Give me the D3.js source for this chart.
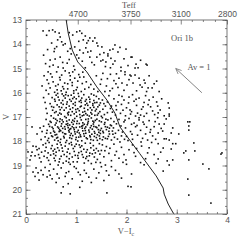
<!DOCTYPE html>
<html>
<head>
<meta charset="utf-8">
<script src="https://cdn.jsdelivr.net/npm/d3@7"></script>
<style>
  body { margin: 0; background: #fff; }
  svg { display: block; }
  .tick text { font-family: "Liberation Sans", sans-serif; font-size: 8.5px; fill: #555; }
  .domain { stroke: none; }
  .tick line { stroke: #555; stroke-width: 0.7; }
</style>
</head>
<body>
<div id="chart"></div>
<script>
// V vs V-Ic colour-magnitude diagram, Ori 1b

// axis ticks
var xTicks = [0, 1, 2, 3, 4];
var yTicks = [13, 14, 15, 16, 17, 18, 19, 20, 21];
// Teff scale on top: label and the V-Ic colour it sits at
var teffLabels = ["4700", "3750", "3100", "2800"];
var teffColor = [1.03, 2.08, 3.08, 4.0];
var teffMinor = [0.2, 0.4, 0.6, 0.8, 1.24, 1.44, 1.64, 1.86, 2.28, 2.48, 2.68, 2.88, 3.3, 3.52, 3.76];

// isochrone (V-Ic, V)
var isoColor = [0.80, 0.84, 0.92, 1.03, 1.21, 1.41, 1.61, 1.77, 1.87, 2.26, 2.59, 2.73, 2.75, 2.83, 2.93, 2.95];
var isoMag   = [13.0, 13.54, 14.24, 14.73, 15.14, 15.76, 16.30, 16.84, 17.41, 18.50, 19.43, 19.93, 20.18, 20.59, 20.96, 21.0];

// reddening vector Av = 1
var avTail = [3.50, 16.0];
var avHead = [2.98, 15.0];

// stars (V-Ic, V)
var stars = [
[0.34,13.45],[0.46,13.44],[0.53,13.41],[0.58,13.49],[0.66,13.54],[1.01,13.49],[1.07,13.45],[1.11,13.55],[0.63,13.82],[0.68,13.70],
[0.71,13.90],[0.51,13.95],[1.14,13.82],[1.21,13.95],[1.27,13.74],[1.37,13.74],[1.41,13.95],[1.33,13.87],[0.93,13.62],[1.18,13.66],
[0.78,13.98],[1.05,13.88],[0.41,13.63],[0.86,13.52],[1.24,13.85],
[0.74,14.03],[0.61,14.10],[1.51,14.11],[1.67,14.24],[1.77,14.03],[0.97,14.11],[1.07,14.24],[1.01,14.44],[1.14,14.36],[1.23,14.32],
[1.27,14.53],[1.41,14.53],[1.53,14.65],[1.63,14.48],[1.77,14.69],[0.48,14.65],[0.58,14.61],[0.68,14.53],[0.54,14.86],[0.64,14.94],
[0.74,14.98],[0.82,14.78],[1.43,14.07],[1.29,14.28],[1.63,14.40],[1.73,14.20],[1.83,14.32],[2.09,14.53],[1.49,14.69],[1.59,14.73],
[1.73,14.82],[1.89,14.95],[2.19,14.82],[2.39,14.82],[2.11,14.53],[2.41,14.86],[2.17,14.98],[1.58,14.92],[1.68,14.97],[0.35,14.45],
[0.43,14.22],[0.90,14.40],[0.86,14.63],[1.95,14.60],[1.36,14.85],[1.12,14.70],[0.95,14.90],[1.99,14.20],[0.56,14.30],[2.28,14.66],
[2.03,14.88],[0.88,14.18],[1.18,14.97],[1.47,14.42],
[0.57,14.18],[0.83,14.29],[1.19,14.15],[1.55,14.35],[1.87,14.13],[0.47,14.92],[0.73,14.75],[1.05,14.57],[1.31,14.75],[1.69,14.58],
[2.23,14.97],[0.39,14.80],
[0.44,15.14],[0.61,15.14],[0.71,15.27],[0.86,15.18],[0.97,15.05],[0.42,15.47],[0.54,15.55],[0.68,15.47],[0.77,15.60],[0.88,15.47],
[0.97,15.40],[1.07,15.36],[0.48,15.80],[0.62,15.88],[0.73,15.75],[0.83,15.84],[0.92,15.70],[1.02,15.78],[1.12,15.62],[1.20,15.55],
[1.25,15.78],[1.35,15.85],[1.43,15.95],[0.36,15.30],[0.32,15.72],[0.57,15.98],[0.80,15.98],[0.95,15.92],[1.10,15.95],[1.17,15.85],
[1.05,15.25],[1.15,15.35],[0.78,15.10],[0.52,15.35],[0.64,15.66],[0.92,15.58],[1.00,15.88],[0.70,15.92],[0.88,15.30],[0.40,15.90],
[0.49,15.22],[0.67,15.37],[0.83,15.63],[1.13,15.15],[0.59,15.72],[1.29,15.66],[0.45,15.62],[0.75,15.84],[1.03,15.52],[0.93,15.14],
[1.97,15.14],[2.07,15.27],[2.17,15.27],[1.91,15.60],[2.01,15.68],[2.13,15.60],[2.27,15.68],[2.37,15.60],[2.31,15.77],[2.43,15.80],
[2.51,15.80],[1.89,15.10],[1.97,15.25],[2.09,15.31],[1.53,15.20],[1.68,15.24],[1.80,15.22],[1.40,15.30],[1.50,15.45],[1.62,15.42],
[1.75,15.50],[1.85,15.40],[2.25,15.40],[2.45,15.30],[2.60,15.52],[1.60,15.72],[1.72,15.82],[1.83,15.78],[1.95,15.90],[2.20,15.92],
[2.65,15.95],[1.57,15.95],[2.35,15.48],[1.48,15.65],[1.79,15.63],[2.05,15.46],[2.55,15.63],[1.67,15.92],[2.40,15.95],
[0.45,16.05],[0.52,16.20],[0.60,16.10],[0.66,16.30],[0.72,16.05],[0.78,16.22],[0.84,16.12],[0.90,16.35],[0.95,16.02],[1.00,16.25],
[1.05,16.15],[1.10,16.40],[1.15,16.08],[1.20,16.28],[1.25,16.18],[1.30,16.05],[1.35,16.32],[1.40,16.15],[1.45,16.25],[0.48,16.45],
[0.55,16.60],[0.62,16.50],[0.68,16.70],[0.74,16.48],[0.80,16.62],[0.86,16.55],[0.92,16.78],[0.98,16.52],[1.03,16.66],[1.08,16.58],
[1.13,16.80],[1.18,16.50],[1.23,16.70],[1.28,16.62],[1.33,16.45],[1.38,16.75],[1.43,16.58],[1.48,16.42],[1.53,16.68],[1.58,16.55],
[0.42,16.85],[0.50,16.95],[0.57,16.82],[0.64,16.92],[0.70,16.88],[0.77,16.98],[0.83,16.84],[0.89,16.93],[0.96,16.87],[1.01,16.97],
[1.07,16.90],[1.12,16.95],[1.19,16.86],[1.26,16.96],[1.31,16.88],[1.37,16.93],[1.44,16.85],[1.50,16.97],[1.56,16.90],[1.62,16.82],
[0.58,16.35],[0.70,16.42],[0.82,16.38],[0.94,16.46],[1.06,16.36],[1.16,16.64],[1.27,16.38],[0.76,16.72],[0.88,16.68],[1.00,16.80],
[1.22,16.92],[1.35,16.60],[0.64,16.18],[0.87,16.28],[1.11,16.22],[1.33,16.52],[1.47,16.78],[0.53,16.72],[0.79,16.08],[0.98,16.40],
[1.18,16.35],[1.41,16.40],[0.66,16.58],[0.93,16.62],[1.06,16.74],[1.29,16.82],[0.73,16.32],[0.96,16.18],[1.23,16.52],[1.52,16.30],
[0.38,16.40],[0.40,16.65],[0.35,16.20],[0.85,16.80],[1.10,16.55],[1.40,16.68],[0.60,16.78],[0.90,16.10],[1.15,16.92],[1.35,16.10],
[0.63,16.03],[0.81,16.47],[1.09,16.31],[1.37,16.41],[0.57,16.27],[0.99,16.69],[1.21,16.44],[0.71,16.61],[1.46,16.51],[0.84,16.91],
[1.04,16.03],[1.31,16.71],[0.93,16.24],[0.67,16.84],[1.17,16.77],[1.55,16.45],[0.51,16.57],[1.27,16.27],[0.75,16.13],[1.42,16.92],
[1.65,16.12],[1.75,16.25],[1.85,16.10],[1.95,16.30],[2.05,16.18],[2.15,16.35],[2.25,16.22],[2.35,16.40],[2.53,16.18],[2.60,16.38],
[2.67,16.71],[2.83,16.42],[2.85,16.63],[2.85,16.88],[1.70,16.55],[1.80,16.70],[1.90,16.48],[2.00,16.62],[2.10,16.78],[2.20,16.52],
[2.30,16.68],[2.40,16.85],[2.48,16.58],[2.56,16.90],[1.78,16.92],[1.88,16.85],[1.98,16.95],[2.08,16.88],[2.18,16.96],[2.28,16.92],
[2.45,16.30],[1.62,16.38],[1.72,16.80],[2.12,16.08],[2.38,16.12],[2.70,16.25],[1.93,16.72],[2.22,16.84],[2.52,16.75],[1.68,16.65],
[2.04,16.42],[2.33,16.58],[2.62,16.55],[2.75,16.95],[1.83,16.38],
[1.91,16.15],[2.19,16.27],[2.43,16.49],[1.79,16.53],[2.07,16.71],[2.35,16.97],[2.63,16.83],
[0.55,17.05],[0.62,17.15],[0.68,17.08],[0.74,17.20],[0.80,17.03],[0.86,17.12],[0.91,17.22],[0.97,17.06],[1.02,17.17],[1.08,17.02],
[1.13,17.24],[1.19,17.10],[1.24,17.18],[1.30,17.04],[1.35,17.21],[1.41,17.09],[1.46,17.16],[1.52,17.03],[1.57,17.23],[1.63,17.12],
[1.69,17.06],[1.75,17.19],[0.48,17.18],[0.40,17.10],[0.12,17.41],
[0.45,17.30],[0.52,17.42],[0.58,17.33],[0.65,17.46],[0.71,17.28],[0.77,17.40],[0.83,17.35],[0.89,17.48],[0.94,17.30],[1.00,17.43],
[1.06,17.27],[1.11,17.38],[1.17,17.47],[1.22,17.32],[1.28,17.44],[1.34,17.29],[1.39,17.41],[1.45,17.35],[1.50,17.47],[1.56,17.30],
[1.62,17.42],[1.68,17.33],[1.74,17.45],[1.80,17.28],[0.35,17.38],[0.28,17.45],
[0.38,17.82],[0.42,17.55],[0.49,17.66],[0.55,17.58],[0.61,17.72],[0.67,17.53],[0.73,17.64],[0.79,17.70],[0.85,17.56],[0.90,17.68],
[0.96,17.52],[1.02,17.62],[1.08,17.74],[1.13,17.57],[1.19,17.67],[1.25,17.54],[1.31,17.71],[1.36,17.60],[1.42,17.73],[1.48,17.55],
[1.54,17.65],[1.60,17.52],[1.66,17.70],[1.72,17.58],[1.78,17.67],[1.84,17.55],[0.32,17.60],[0.22,17.70],
[0.45,17.88],[0.51,17.78],[0.57,17.95],[0.63,17.84],[0.69,17.92],[0.75,17.80],[0.81,17.97],[0.87,17.86],[0.93,17.77],[0.99,17.93],
[1.05,17.83],[1.11,17.98],[1.16,17.79],[1.22,17.90],[1.28,17.82],[1.34,17.96],[1.40,17.85],[1.46,17.78],[1.52,17.94],[1.58,17.88],
[1.64,17.80],[1.70,17.95],[1.76,17.84],[1.82,17.91],[1.90,17.78],[1.96,17.92],[0.30,17.93],
[0.60,17.25],[0.72,17.12],[0.84,17.44],[0.96,17.18],[1.04,17.55],[1.16,17.30],[1.26,17.62],[1.38,17.14],[1.44,17.52],[1.58,17.40],
[0.66,17.60],[0.78,17.50],[0.88,17.76],[1.00,17.84],[1.12,17.46],[1.20,17.86],[1.32,17.50],[1.48,17.68],[1.62,17.90],[0.54,17.48],
[0.70,17.38],[0.92,17.40],[1.10,17.12],[1.30,17.36],[1.50,17.20],[1.70,17.36],[0.58,17.74],[0.80,17.30],[1.06,17.66],[1.36,17.80],
[1.54,17.82],[1.66,17.46],[0.76,17.86],[0.98,17.70],[1.18,17.56],[1.42,17.96],[0.64,17.98],[0.50,17.22],[0.86,17.62],[1.24,17.08],
[0.59,17.09],[0.83,17.27],[1.07,17.41],[1.33,17.17],[0.47,17.39],[0.69,17.57],[0.93,17.13],[1.15,17.69],[1.41,17.44],[0.63,17.41],
[0.87,17.51],[1.13,17.35],[1.37,17.67],[0.53,17.81],[0.77,17.69],[1.01,17.27],[1.27,17.77],[1.53,17.59],[0.41,17.67],[0.67,17.19],
[0.91,17.89],[1.19,17.41],[1.47,17.89],[0.73,17.47],[0.97,17.61],[1.23,17.25],[1.59,17.09],[0.57,17.63],[0.81,17.17],[1.09,17.81],
[1.35,17.39],[1.65,17.59],[0.61,17.87],[0.87,17.33],[1.29,17.93],[1.73,17.71],[0.43,17.97],[1.03,17.99],[1.45,17.63],[0.95,17.45],
[1.85,17.10],[1.95,17.20],[2.05,17.06],[2.15,17.25],[2.25,17.12],[2.35,17.30],[2.45,17.15],[2.55,17.40],[2.62,17.03],[2.85,16.96],
[3.22,17.20],[3.24,17.37],[3.24,17.54],[2.65,17.29],[2.75,17.29],[2.79,17.08],[2.92,17.45],[2.89,17.66],[3.04,17.70],[2.72,17.58],
[2.63,17.66],[2.75,17.90],[2.79,17.90],[2.85,17.95],[1.98,17.45],[2.08,17.60],[2.18,17.40],[2.28,17.55],[2.38,17.70],[2.48,17.52],
[2.00,17.80],[2.12,17.92],[2.22,17.75],[2.32,17.88],[2.42,17.95],[2.52,17.78],[2.58,17.92],[1.92,17.62],[2.10,17.30],[2.40,17.42],
[3.26,17.20],[1.97,17.13],[2.21,17.35],[2.47,17.63],[2.69,17.47],[1.89,17.37],[2.11,17.71],[2.33,17.21],[2.57,17.19],[2.25,17.03],
[0.04,18.44],[0.14,18.20],[0.12,18.45],[0.08,18.77],[0.20,18.22],[0.26,18.30],[0.18,18.60],[0.25,18.55],[0.30,18.85],[0.34,18.15],
[0.38,18.40],[0.42,18.68],[0.46,18.05],[0.50,18.30],[0.55,18.52],[0.58,18.80],[0.62,18.12],[0.66,18.38],[0.70,18.62],[0.74,18.90],
[0.78,18.20],[0.82,18.45],[0.86,18.72],[0.90,18.05],[0.94,18.30],[0.98,18.58],[1.02,18.85],[1.06,18.15],[1.10,18.42],[1.14,18.66],
[1.18,18.08],[1.22,18.35],[1.26,18.60],[1.30,18.92],[1.34,18.18],[1.38,18.48],[1.42,18.75],[1.46,18.10],[1.50,18.38],[1.55,18.64],
[1.60,18.22],[1.65,18.50],[1.70,18.80],[1.75,18.12],[1.80,18.42],[1.85,18.70],[1.90,18.25],[1.95,18.55],[2.00,18.95],[0.48,18.95],
[0.64,18.98],[0.88,18.95],[1.16,18.90],[0.60,18.45],[0.76,18.55],[0.92,18.65],[1.08,18.25],[1.24,18.80],[1.40,18.30],[0.52,18.18],
[0.68,18.05],[0.84,18.32],[1.00,18.12],[1.32,18.52],[1.48,18.88],[0.44,18.48],[0.56,18.70],[0.72,18.28],[0.96,18.42],[1.12,18.55],
[1.28,18.08],[0.80,18.82],[1.04,18.70],[1.58,18.98],[0.36,18.62],[0.40,18.25],[0.54,18.40],[0.66,18.85],[0.70,18.15],[0.86,18.10],
[0.94,18.85],[1.20,18.45],[1.36,18.65],[1.44,18.40],[1.52,18.15],[0.22,18.35],[0.10,18.60],[2.05,18.35],[2.12,18.15],[2.18,18.62],
[0.39,18.09],[0.63,18.27],[0.87,18.51],[1.11,18.19],[1.35,18.37],[0.49,18.57],[0.73,18.41],[0.97,18.21],[1.21,18.63],[1.47,18.53],
[0.57,18.33],[0.81,18.63],[1.05,18.47],[1.29,18.27],[1.57,18.39],[0.31,18.45],[0.67,18.73],[0.91,18.15],[1.15,18.33],[1.39,18.87],
[0.45,18.79],[0.79,18.05],[1.03,18.59],[1.27,18.49],[1.67,18.29],[0.59,18.59],[0.85,18.87],[1.19,18.71],[1.77,18.57],[0.27,18.69],
[2.63,18.10],[2.98,18.10],[2.92,18.10],[2.73,18.28],[2.89,18.32],[3.34,18.07],[3.18,18.40],[3.36,18.40],[3.14,18.48],[3.88,18.53],
[2.63,18.73],[2.81,18.81],[2.92,18.77],[2.85,18.98],[3.24,18.77],[3.52,18.94],[2.30,18.20],[2.42,18.48],[2.50,18.05],[2.38,18.72],
[2.55,18.55],[2.28,18.88],[3.90,18.48],[2.20,18.30],[2.68,18.45],[2.03,17.97],[2.29,18.03],[2.15,18.47],[2.45,18.27],[2.59,18.91],
[1.99,18.77],[2.35,18.97],[1.87,18.03],[1.93,18.87],
[0.14,19.27],[0.24,19.30],[0.20,19.10],[0.42,19.47],[0.48,19.40],[0.30,19.20],[0.55,19.15],[0.62,19.35],[0.70,19.10],[0.78,19.45],
[0.85,19.25],[0.92,19.55],[1.00,19.12],[1.08,19.38],[1.16,19.20],[1.25,19.48],[1.35,19.15],[1.45,19.30],[1.55,19.62],[1.65,19.40],
[1.78,19.20],[0.70,20.13],[0.88,20.17],[1.07,19.90],[1.61,20.13],[2.73,19.23],[3.64,19.14],[3.22,19.56],[3.24,20.22],[3.68,20.55],
[0.60,19.70],[1.30,19.70],[0.52,19.55],[1.12,19.65],[1.90,19.52],[2.10,19.35],[0.38,19.08],[0.96,19.05],[1.50,19.05],[0.84,19.75],
[1.70,19.05],[2.03,19.86],[2.09,19.88],[0.18,19.45],[0.34,19.38],[0.66,19.52],[0.80,19.30],[1.20,19.32],[1.40,19.52],[1.60,19.22],
[0.46,19.22],[1.04,19.28],[1.85,19.35],[0.26,19.60],[0.74,19.88]
];

var width = 240, height = 240;
var margin = {top: 20, right: 13, bottom: 26, left: 26};

var svg = d3.select("#chart").append("svg")
    .attr("width", width)
    .attr("height", height);

var x = d3.scaleLinear().domain([0, 4]).range([margin.left, width - margin.right]);
var y = d3.scaleLinear().domain([13, 21]).range([margin.top, height - margin.bottom]);

// minor tick positions
var xMinor = d3.range(0, 4.001, 0.2);
var yMinor = d3.range(13, 21.001, 1 / 3);

// bottom axis
svg.append("g")
    .attr("transform", "translate(0," + y(21) + ")")
    .call(d3.axisBottom(x).tickValues(xMinor).tickSize(-2).tickFormat(""));
svg.append("g")
    .attr("transform", "translate(0," + y(21) + ")")
    .call(d3.axisBottom(x).tickValues(xTicks).tickSize(-4.5).tickPadding(3).tickFormat(d3.format("d")));

// top axis (Teff)
svg.append("g")
    .attr("transform", "translate(0," + y(13) + ")")
    .call(d3.axisTop(x).tickValues(teffMinor).tickSize(-2).tickFormat(""));
svg.append("g")
    .attr("transform", "translate(0," + y(13) + ")")
    .call(d3.axisTop(x).tickValues(teffColor).tickSize(-4.5).tickPadding(3)
        .tickFormat(function(d, i) { return teffLabels[i]; }));

// left axis
svg.append("g")
    .attr("transform", "translate(" + x(0) + ",0)")
    .call(d3.axisLeft(y).tickValues(yMinor).tickSize(-2).tickFormat(""));
svg.append("g")
    .attr("transform", "translate(" + x(0) + ",0)")
    .call(d3.axisLeft(y).tickValues(yTicks).tickSize(-4.5).tickPadding(4).tickFormat(d3.format("d")));

// right axis, no labels
svg.append("g")
    .attr("transform", "translate(" + x(4) + ",0)")
    .call(d3.axisRight(y).tickValues(yMinor).tickSize(-2).tickFormat(""));
svg.append("g")
    .attr("transform", "translate(" + x(4) + ",0)")
    .call(d3.axisRight(y).tickValues(yTicks).tickSize(-4.5).tickFormat(""));

// frame
svg.append("rect")
    .attr("x", x(0)).attr("y", y(13))
    .attr("width", x(4) - x(0)).attr("height", y(21) - y(13))
    .attr("fill", "none").attr("stroke", "#555").attr("stroke-width", 0.8);

// stars
svg.append("g").selectAll("rect")
    .data(stars)
  .enter().append("rect")
    .attr("x", function(d) { return x(d[0]) - 0.8; })
    .attr("y", function(d) { return y(d[1]) - 0.8; })
    .attr("width", 1.6)
    .attr("height", 1.6)
    .attr("fill", "#111");

// isochrone
var line = d3.line()
    .x(function(d, i) { return x(isoColor[i]); })
    .y(function(d, i) { return y(isoMag[i]); });
svg.append("path")
    .attr("d", line(isoColor))
    .attr("fill", "none")
    .attr("stroke", "#222")
    .attr("stroke-width", 1);

// reddening arrow
svg.append("defs").append("marker")
    .attr("id", "head")
    .attr("viewBox", "0 0 10 10")
    .attr("refX", 9).attr("refY", 5)
    .attr("markerWidth", 7).attr("markerHeight", 7)
    .attr("orient", "auto")
  .append("path")
    .attr("d", "M0,1 L9,5 L0,9")
    .attr("fill", "none")
    .attr("stroke", "#777")
    .attr("stroke-width", 1.2);
svg.append("line")
    .attr("x1", x(avTail[0])).attr("y1", y(avTail[1]))
    .attr("x2", x(avHead[0])).attr("y2", y(avHead[1]))
    .attr("stroke", "#777")
    .attr("stroke-width", 0.9)
    .attr("marker-end", "url(#head)");

// labels
var serif = "'Liberation Serif', serif";
svg.append("text")
    .attr("x", 182).attr("y", 41)
    .attr("text-anchor", "middle")
    .style("font-family", serif).style("font-size", "8.5px").style("fill", "#555")
    .text("Ori 1b");
svg.append("text")
    .attr("x", 199).attr("y", 70)
    .attr("text-anchor", "middle")
    .style("font-family", serif).style("font-size", "8.5px").style("fill", "#555")
    .text("Av = 1");
svg.append("text")
    .attr("x", 129).attr("y", 8)
    .attr("text-anchor", "middle")
    .style("font-family", serif).style("font-size", "8.5px").style("fill", "#555")
    .text("Teff");
svg.append("text")
    .attr("transform", "translate(9," + y(17) + ") rotate(-90)")
    .attr("text-anchor", "middle")
    .style("font-family", serif).style("font-size", "8.5px").style("fill", "#555")
    .text("V");
var xl = svg.append("text")
    .attr("x", 126).attr("y", 234)
    .attr("text-anchor", "middle")
    .style("font-family", serif).style("font-size", "8.5px").style("fill", "#555");
xl.append("tspan").text("V\u2212I");
xl.append("tspan").attr("dy", 2).style("font-size", "6px").text("c");
</script>
</body>
</html>
